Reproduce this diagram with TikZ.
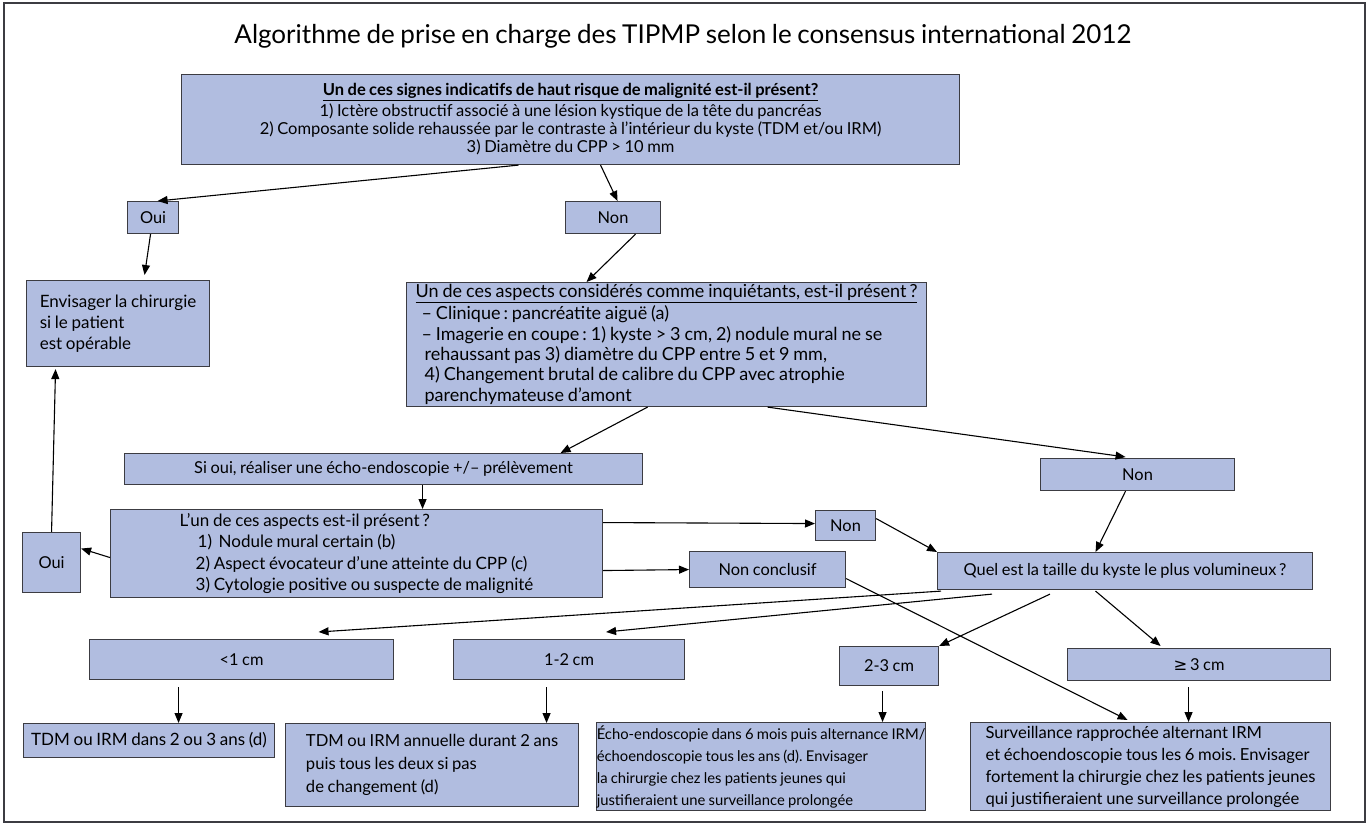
\documentclass[tikz,border=0pt]{standalone}
\usepackage{fontspec}
\setmainfont{Lato}[WordSpace=0.85]
\newfontfamily\symfont{DejaVu Sans}
\usetikzlibrary{arrows.meta}
\definecolor{fond}{RGB}{177,189,224}
\definecolor{trait}{RGB}{60,60,66}
\frenchspacing

\begin{document}
\begin{tikzpicture}[x=1pt, y=-1pt,
    boite/.style={draw=trait, line width=1.1pt, fill=fond, anchor=north west,
        inner sep=0pt, font=\fontsize{16.4}{18}\selectfont},
    fleche/.style={line width=1.1pt, -{Triangle[length=10pt, width=8pt]}}]
    \useasboundingbox (0,0) rectangle (1367,824);
    \draw[trait, line width=1.2pt] (4,3) rectangle (1365,822);

    % titre
    \node[font=\fontsize{26}{28}\selectfont] (titre) at (683,36)
        {Algorithme de prise en charge des TIPMP selon le consensus international 2012};

    % signes de haut risque
    \node[boite, minimum width=778, minimum height=90, align=center,
        font=\fontsize{16.5}{18}\selectfont] (haut) at (181,74)
        {\underline{\textbf{Un de ces signes indicatifs de haut risque de malignité est-il présent?}}\\[3pt]
         1) Ictère obstructif associé à une lésion kystique de la tête du pancréas\\
         2) Composante solide rehaussée par le contraste à l’intérieur du kyste (TDM et/ou IRM)\\
         3) Diamètre du CPP > 10 mm};
    \node[boite, minimum width=51, minimum height=32] (oui) at (127,201) {Oui};
    \node[boite, minimum width=95, minimum height=32] (non) at (565,201) {Non};
    \node[boite, minimum width=183, minimum height=86, align=left,
        font=\fontsize{17}{21}\selectfont] (chir) at (26,280)
        {Envisager la chirurgie\\si le patient\\est opérable};

    % aspects inquiétants
    \node[boite, minimum width=520, minimum height=124, align=left,
        font=\fontsize{18}{20.4}\selectfont] (inq) at (406,282)
        {\underline{Un de ces aspects considérés comme inquiétants, est-il présent\,?}\\[1.5pt]
         \hspace*{6pt}– Clinique\,: pancréatite aiguë (a)\\
         \hspace*{6pt}– Imagerie en coupe\,: 1) kyste > 3 cm, 2) nodule mural ne se\\
         \hspace*{9pt}rehaussant pas 3) diamètre du CPP entre 5 et 9 mm,\\
         \hspace*{9pt}4) Changement brutal de calibre du CPP avec atrophie\\
         \hspace*{9pt}parenchymateuse d’amont};
    \node[boite, minimum width=518, minimum height=31] (eus) at (124,453)
        {Si oui, réaliser une écho-endoscopie +/– prélèvement};
    \node[boite, minimum width=194, minimum height=32] (non2) at (1040,458) {Non};

    % écho-endoscopie
    \node[boite, minimum width=492, minimum height=88, align=left,
        font=\fontsize{17}{21.5}\selectfont] (lun) at (110,509)
        {L’un de ces aspects est-il présent\,?\\
         \hspace*{18pt}1)\, Nodule mural certain (b)\\
         \hspace*{16pt}2) Aspect évocateur d’une atteinte du CPP (c)\\
         \hspace*{16pt}3) Cytologie positive ou suspecte de malignité};
    \node[boite, minimum width=58, minimum height=60] (oui2) at (22,532) {Oui};
    \node[boite, minimum width=60, minimum height=30] (non3) at (815,510) {Non};
    \node[boite, minimum width=156, minimum height=36] (nonc) at (689,551) {Non conclusif};
    \node[boite, minimum width=375, minimum height=37] (quel) at (937,552)
        {Quel est la taille du kyste le plus volumineux\,?};

    % taille du kyste
    \node[boite, minimum width=304, minimum height=40] (lt1) at (89,639) {<1 cm};
    \node[boite, minimum width=231, minimum height=40] (b12) at (453,639) {1-2 cm};
    \node[boite, minimum width=99, minimum height=39] (b23) at (839,646) {2-3 cm};
    \node[boite, minimum width=263, minimum height=32] (ge3) at (1067,648) {{\symfont ≥}\,3 cm};

    % surveillance
    \node[boite, minimum width=251, minimum height=34, font=\fontsize{17}{20}\selectfont] (r1) at (23,723)
        {TDM ou IRM dans 2 ou 3 ans (d)};
    \node[boite, minimum width=293, minimum height=83, align=left,
        font=\fontsize{16.6}{23}\selectfont] (r2) at (285,723)
        {TDM ou IRM annuelle durant 2 ans\\puis tous les deux si pas\\de changement (d)};
    \node[boite, minimum width=329, minimum height=88, align=left,
        font=\fontsize{14.8}{22}\selectfont] (r3) at (596,722)
        {Écho-endoscopie dans 6 mois puis alternance IRM/\\échoendoscopie tous les ans (d). Envisager\\la chirurgie chez les patients jeunes qui\\justifieraient une surveillance prolongée};
    \node[boite, minimum width=360, minimum height=88, align=left,
        font=\fontsize{16.6}{22}\selectfont] (r4) at (970,722)
        {Surveillance rapprochée alternant IRM\\et échoendoscopie tous les 6 mois. Envisager\\fortement la chirurgie chez les patients jeunes\\qui justifieraient une surveillance prolongée};

    % flèches
    \draw[fleche] ([xshift=-52]haut.south) -- ([xshift=4.5]oui.north);
    \draw[fleche] ([xshift=30]haut.south) -- ([xshift=4.5]non.north);
    \draw[fleche] ([xshift=-2.5]oui.south) -- ([xshift=26.5,yshift=5]chir.north);
    \draw[fleche] ([xshift=22.5]non.south) -- ([xshift=-80]inq.north);
    \draw[fleche] ([xshift=-19]inq.south) -- ([xshift=177]eus.north);
    \draw[fleche] ([xshift=101]inq.south) -- ([xshift=-12,yshift=1]non2.north);
    \draw[fleche] ([xshift=39]eus.south) -- ([xshift=66]lun.north);
    \draw[fleche] ([yshift=-4]lun.west) -- ([yshift=14]oui2.east);
    \draw[fleche] (oui2.north) -- ([xshift=-62.5,yshift=-2]chir.south);
    \draw[fleche] ([yshift=31]lun.east) -- ([yshift=2]non3.west);
    \draw[fleche] ([yshift=-17]lun.east) -- (nonc.west);
    \draw[fleche] ([yshift=7]non3.east) -- (quel.north west);
    \draw[fleche] ([xshift=-12]non2.south) -- ([xshift=-29.5]quel.north);
    \draw[fleche] ([yshift=-9]nonc.east) -- ([xshift=-23,yshift=2]r4.north);
    \draw[fleche] ([xshift=4,yshift=-1]quel.south west) -- ([xshift=77,yshift=7]lt1.north);
    \draw[fleche] ([xshift=55,yshift=-4]quel.south west) -- ([xshift=37,yshift=7]b12.north);
    \draw[fleche] ([xshift=113,yshift=-4]quel.south west) -- (b23.north east);
    \draw[fleche] ([xshift=-29.5,yshift=-1]quel.south) -- ([xshift=-38.5,yshift=2]ge3.north);
    \draw[fleche] ([xshift=-63,yshift=-7]lt1.south) -- ([xshift=29.5]r1.north);
    \draw[fleche] ([xshift=-22.5,yshift=-7]b12.south) -- ([xshift=114.5]r2.north);
    \draw[fleche] ([xshift=-6.5,yshift=-5]b23.south) -- ([xshift=121.5]r3.north);
    \draw[fleche] ([xshift=-10.5,yshift=-6]ge3.south) -- ([xshift=38]r4.north);
\end{tikzpicture}
\end{document}
